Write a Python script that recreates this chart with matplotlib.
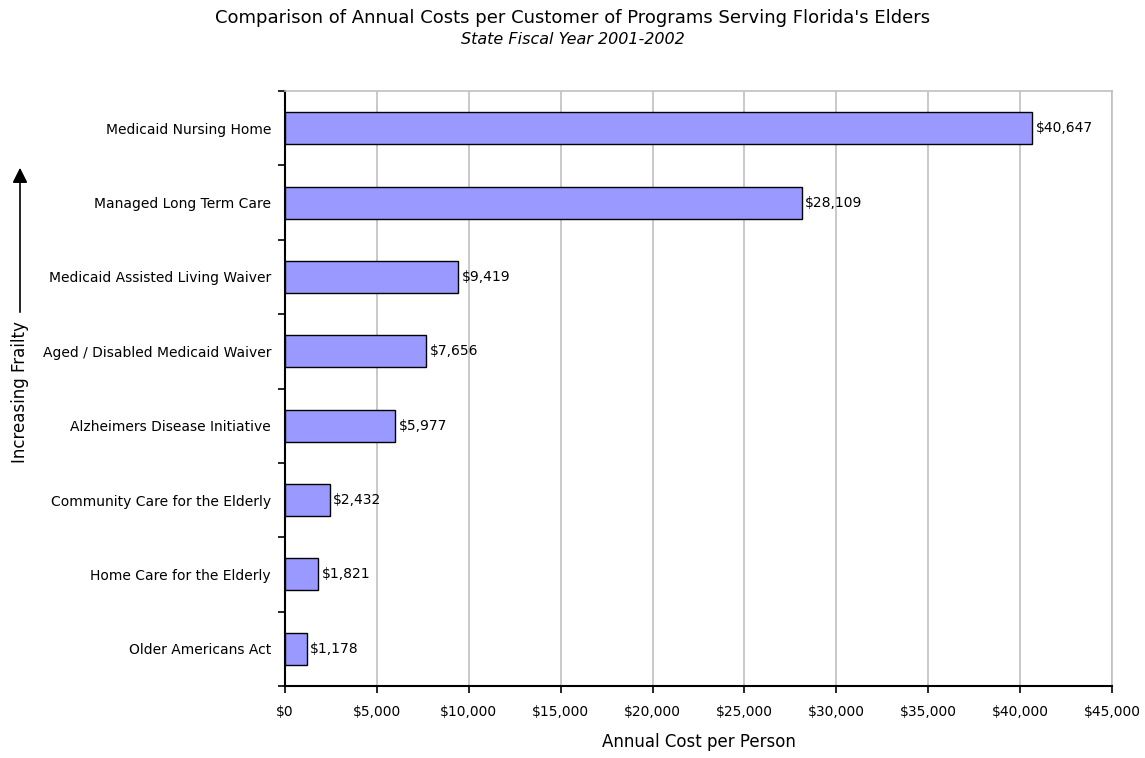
import numpy as np
import matplotlib
matplotlib.use("Agg")
import matplotlib.pyplot as plt
from matplotlib.ticker import FuncFormatter

# ── Data (SFY 2001-2002, annual cost per customer) ───────────────────────────
programs = [
    "Medicaid Nursing Home",
    "Managed Long Term Care",
    "Medicaid Assisted Living Waiver",
    "Aged / Disabled Medicaid Waiver",
    "Alzheimers Disease Initiative",
    "Community Care for the Elderly",
    "Home Care for the Elderly",
    "Older Americans Act",
]
costs = [40647, 28109, 9419, 7656, 5977, 2432, 1821, 1178]
xticks = np.arange(0, 45001, 5000)

BAR_COLOR = "#9999FF"
FONT = "DejaVu Sans"
FS = 10

fig = plt.figure(figsize=(11.45, 7.58), dpi=100)
ax = fig.add_axes([285 / 1145, 1 - 686 / 758, (1112 - 285) / 1145, (686 - 91) / 758])

n = len(programs)
ypos = np.arange(n)[::-1]
ax.barh(ypos, costs, height=0.43, color=BAR_COLOR, edgecolor="black",
        linewidth=1.0, zorder=3)

for y, v in zip(ypos, costs):
    ax.text(v + 200, y, f"${v:,}", va="center", ha="left",
            fontsize=FS, family=FONT, zorder=4)

ax.set_xlim(0, 45000)
ax.set_ylim(-0.5, n - 0.5)
ax.set_xticks(xticks)
ax.xaxis.set_major_formatter(FuncFormatter(lambda v, _: f"${v:,.0f}"))
ax.grid(axis="x", color="#c0c0c0", lw=1.2, zorder=0)

# category labels sit between boundary ticks
ax.set_yticks(np.arange(-0.5, n, 1.0))
ax.set_yticklabels([])
ax.set_yticks(ypos, minor=True)
ax.set_yticklabels(programs, minor=True, fontsize=FS, family=FONT)
ax.tick_params(axis="y", which="minor", length=0, pad=10)
ax.tick_params(axis="y", which="major", length=5, width=1.2, direction="out")
ax.tick_params(axis="x", length=5, width=1.2, direction="out",
               labelsize=FS, pad=9)
for lbl in ax.get_xticklabels():
    lbl.set_family(FONT)

for side in ("left", "bottom"):
    ax.spines[side].set_linewidth(1.5)
    ax.spines[side].set_color("black")
for side in ("top", "right"):
    ax.spines[side].set_linewidth(1.2)
    ax.spines[side].set_color("#c0c0c0")

ax.set_xlabel("Annual Cost per Person", fontsize=12, family=FONT, labelpad=10)

# frailty arrow on the far left
fig.text(20 / 1145, 1 - 392 / 758, "Increasing Frailty", rotation=90,
         ha="center", va="center", fontsize=12, family=FONT)
fig.add_artist(matplotlib.patches.FancyArrowPatch(
    (20 / 1145, 1 - 315 / 758), (20 / 1145, 1 - 165 / 758),
    transform=fig.transFigure, arrowstyle="-|>,head_length=6,head_width=3",
    color="black", lw=1.2, mutation_scale=1.5))

fig.text(0.5, 1 - 18 / 758,
         "Comparison of Annual Costs per Customer of Programs Serving Florida's Elders",
         ha="center", va="center", fontsize=13, family=FONT)
fig.text(0.5, 1 - 40 / 758, "State Fiscal Year 2001-2002", ha="center",
         va="center", fontsize=11.5, family=FONT, style="italic")

plt.savefig("out.png", dpi=100)
